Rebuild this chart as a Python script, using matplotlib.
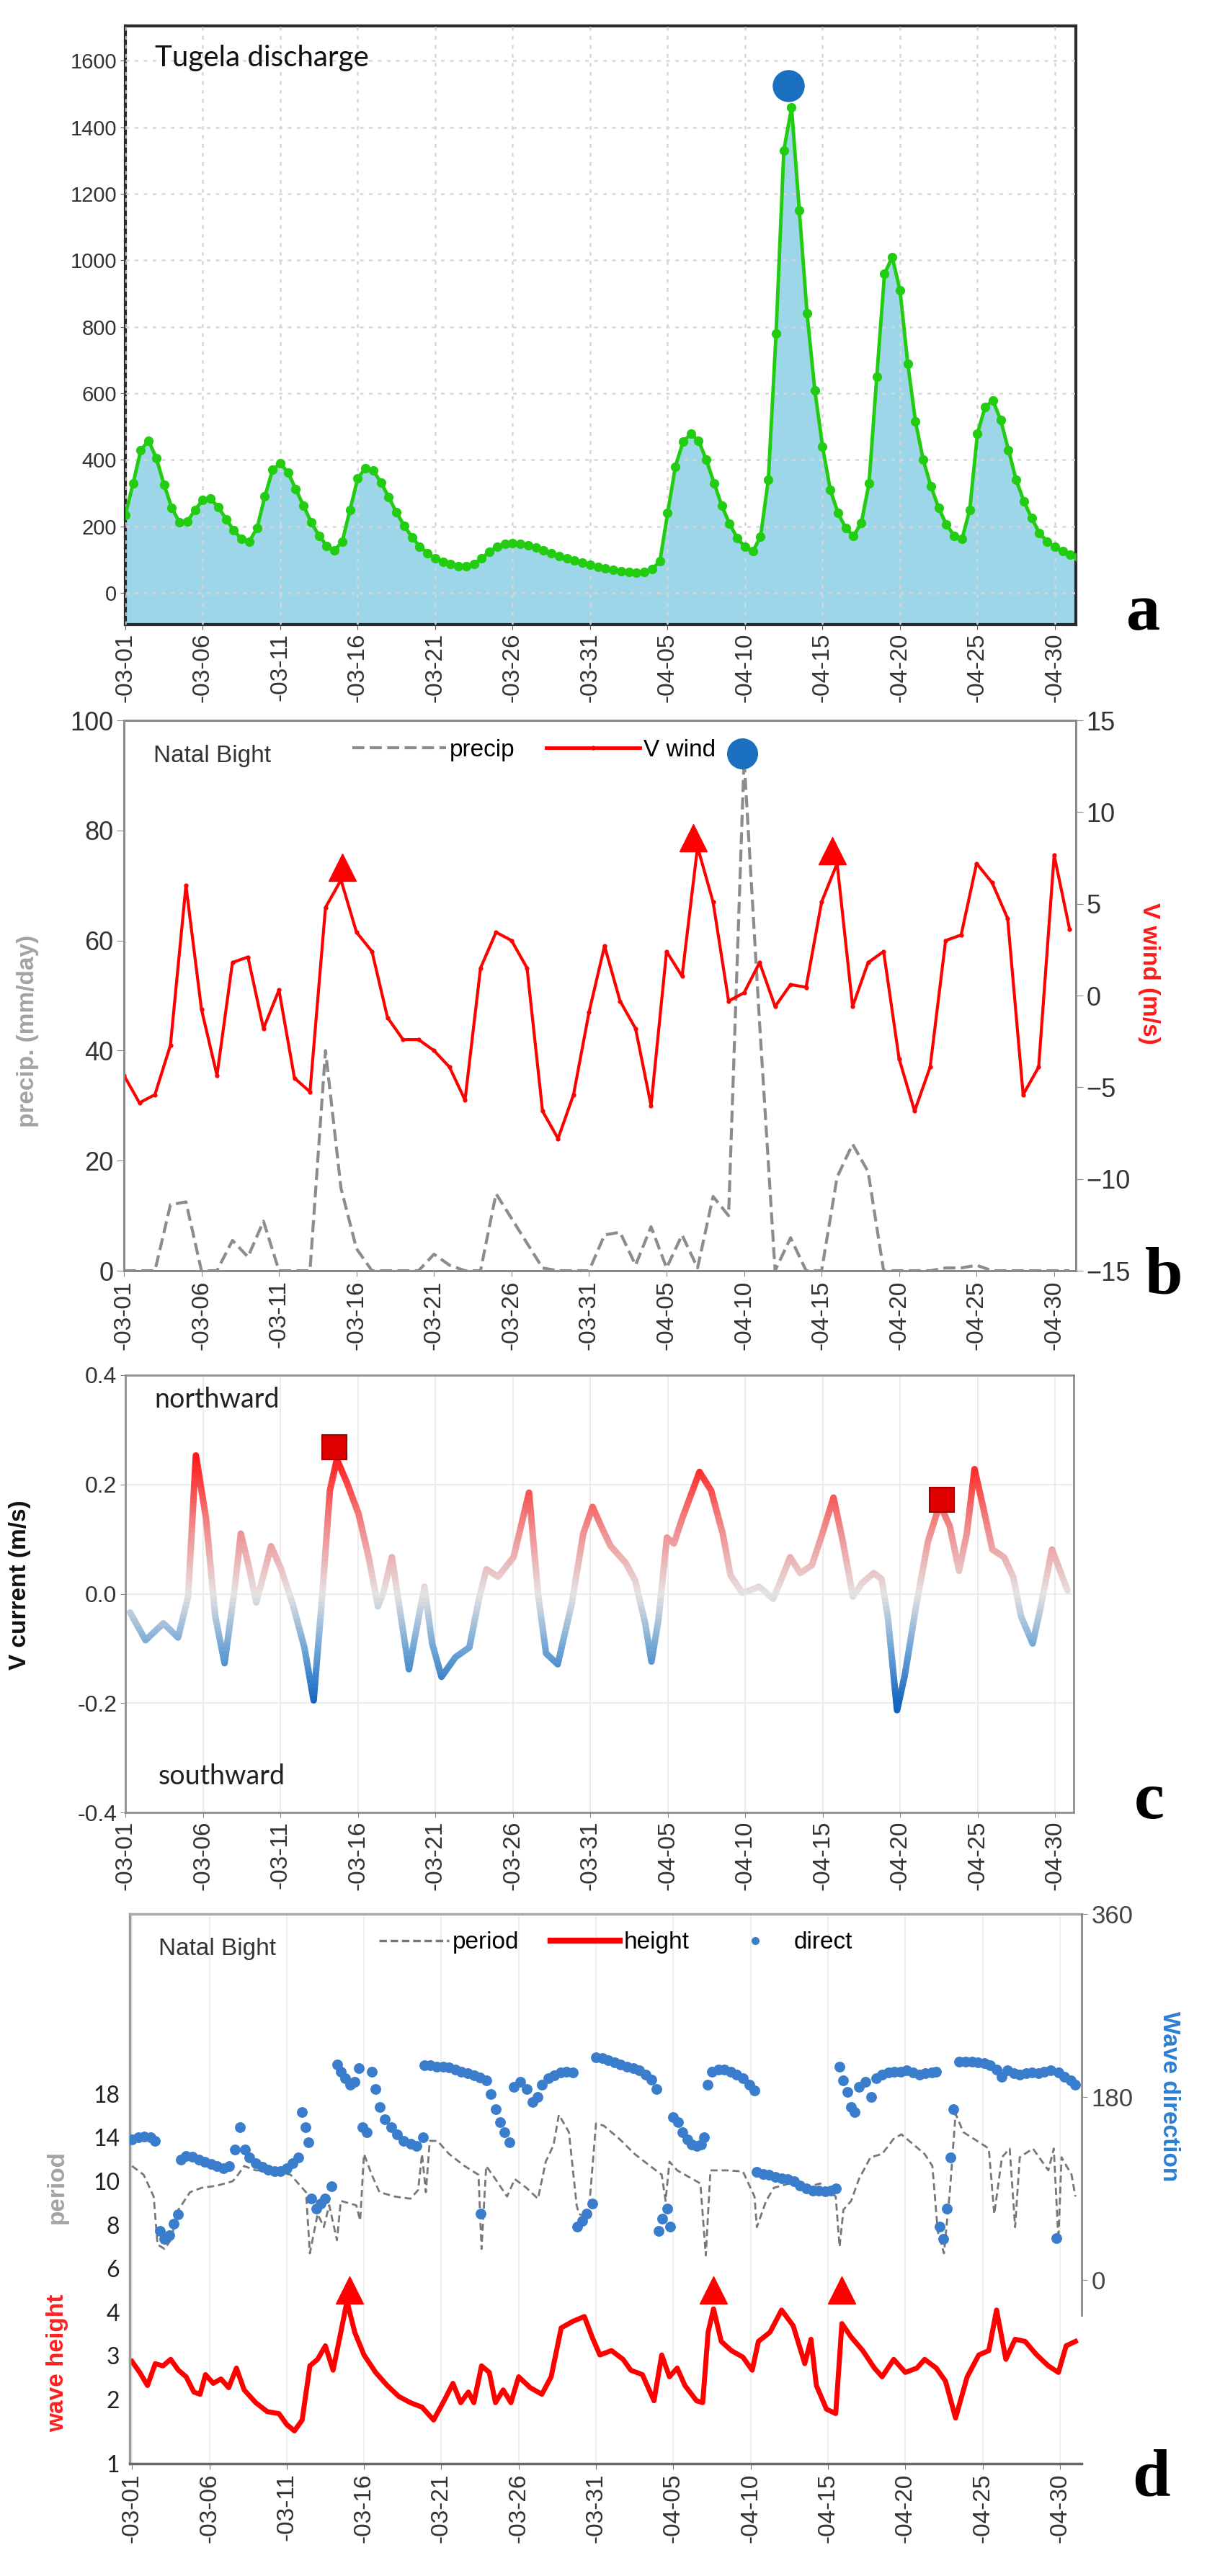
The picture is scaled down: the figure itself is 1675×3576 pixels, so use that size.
import numpy as np
import matplotlib
matplotlib.use('Agg')
import matplotlib.pyplot as plt
from matplotlib.lines import Line2D
from matplotlib.patches import Rectangle
from matplotlib.colors import LinearSegmentedColormap, TwoSlopeNorm

plt.rcParams['font.family'] = 'Liberation Sans'

# ---------------- data (day 0 = 03-01) ----------------
tick_days = list(range(0, 61, 5))
tick_labels = ['-03-01', '-03-06', '-03-11', '-03-16', '-03-21', '-03-26', '-03-31',
               '-04-05', '-04-10', '-04-15', '-04-20', '-04-25', '-04-30']

# a: Tugela discharge, every half day
q_days = np.arange(0, 62, 0.5)
q_vals = [235, 330, 430, 458, 405, 325, 255, 212, 215, 250, 280, 283, 258, 222, 188, 162,
          155, 195, 290, 370, 390, 362, 312, 262, 212, 172, 142, 128, 155, 250, 345, 376,
          368, 332, 288, 242, 202, 168, 140, 120, 104, 93, 86, 81, 80, 88, 104, 124,
          139, 147, 150, 148, 143, 136, 128, 119, 111, 104, 97, 91, 85, 79, 74, 69,
          65, 63, 62, 64, 72, 95, 240, 380, 455, 478, 458, 400, 330, 262, 208, 165,
          138, 125, 170, 340, 780, 1330, 1460, 1150, 840, 610, 440, 310, 240, 195, 172, 210,
          330, 650, 960, 1010, 910, 690, 515, 400, 320, 255, 205, 172, 162, 250, 480, 560,
          578, 520, 430, 340, 275, 225, 180, 155, 138, 125, 115, 108]
q_peak_day, q_peak_val = 42.8, 1525

# b: daily precipitation and V wind
b_days = np.arange(0, 62)
precip = [0, 0, 0, 12, 12.5, 0, 0, 5.5, 2.5, 9, 0, 0, 0, 40, 15, 4, 0, 0, 0, 0, 3, 1,
          0, 0, 14, 9.5, 5, 0.5, 0, 0, 0, 6.5, 7, 1, 8, 0.5, 6.5, 0.5, 13.5, 10, 93, 45,
          0, 6, 0, 0, 17, 23, 18, 0, 0, 0, 0, 0.5, 0.5, 1, 0, 0, 0, 0, 0, 0]
v_wind = [-4.35, -5.85, -5.4, -2.7, 6.0, -0.75, -4.35, 1.8, 2.1, -1.8, 0.3, -4.5, -5.25,
          4.8, 6.3, 3.45, 2.4, -1.2, -2.4, -2.4, -3.0, -3.9, -5.7, 1.5, 3.45, 3.0, 1.5,
          -6.3, -7.8, -5.4, -0.9, 2.7, -0.3, -1.8, -6.0, 2.4, 1.05, 8.1, 5.1, -0.3, 0.15,
          1.8, -0.6, 0.6, 0.45, 5.1, 7.2, -0.6, 1.8, 2.4, -3.45, -6.3, -3.9, 3.0, 3.3,
          7.2, 6.15, 4.2, -5.4, -3.9, 7.65, 3.6]
precip_peak_day, precip_peak_val = 39.9, 94
b_tri_days = [14.1, 36.7, 45.7]
b_tri_wind = [7.0, 8.6, 7.9]

# c: V current
vc_days = [0.3, 1.3, 2.45, 3.4, 4.05, 4.55, 5.2, 5.8, 6.4, 7.05, 7.45, 7.95, 8.45, 9.4,
           10.05, 10.8, 11.55, 12.15, 12.7, 13.2, 13.65, 14.3, 15.05, 15.7, 16.3, 16.65,
           17.2, 17.7, 18.3, 19.3, 19.8, 20.4, 21.3, 22.2, 22.8, 23.3, 24.05, 25.05, 26.05,
           26.65, 27.15, 27.9, 28.8, 29.55, 30.15, 30.7, 31.3, 32.3, 32.9, 33.55, 33.95,
           34.4, 34.95, 35.4, 35.95, 37.05, 37.8, 38.55, 39.05, 39.8, 40.3, 40.9, 41.8,
           42.3, 42.9, 43.55, 44.3, 44.9, 45.7, 46.3, 46.95, 47.55, 48.3, 48.8, 49.2, 49.8,
           50.3, 51.05, 51.8, 52.55, 53.2, 53.8, 54.3, 54.8, 55.4, 55.95, 56.7, 57.3, 57.8,
           58.55, 59.05, 59.8, 60.8]
vc_vals = [-0.034, -0.085, -0.054, -0.080, -0.005, 0.253, 0.139, -0.041, -0.127, 0.009,
           0.110, 0.052, -0.016, 0.087, 0.045, -0.019, -0.098, -0.195, -0.005, 0.189,
           0.246, 0.203, 0.146, 0.067, -0.023, 0.002, 0.067, -0.027, -0.138, 0.013,
           -0.091, -0.152, -0.116, -0.098, -0.012, 0.045, 0.031, 0.067, 0.185, -0.005,
           -0.109, -0.129, -0.019, 0.110, 0.159, 0.124, 0.088, 0.056, 0.024, -0.055,
           -0.124, -0.048, 0.103, 0.092, 0.139, 0.223, 0.189, 0.110, 0.034, 0.002, 0.006,
           0.013, -0.009, 0.024, 0.067, 0.038, 0.052, 0.103, 0.176, 0.096, -0.005, 0.020,
           0.038, 0.027, -0.041, -0.213, -0.149, -0.019, 0.096, 0.164, 0.124, 0.042, 0.110,
           0.228, 0.153, 0.081, 0.067, 0.031, -0.041, -0.091, -0.027, 0.081, 0.006]
sq_days = [13.5, 52.7]
sq_vals = [0.268, 0.172]

# d: waves
ht_days = [0.0, 0.5, 1.0, 1.5, 2.0, 2.5, 3.0, 3.5, 4.0, 4.4, 4.75, 5.25, 5.75, 6.25, 6.75,
           7.25, 8.0, 8.75, 9.5, 10.0, 10.5, 11.0, 11.5, 12.0, 12.5, 13.0, 13.5, 13.9, 14.4,
           15.0, 15.75, 16.5, 17.25, 18.0, 18.75, 19.5, 20.25, 20.75, 21.25, 21.75, 22.1,
           22.6, 23.1, 23.5, 24.0, 24.5, 25.0, 25.75, 26.5, 27.1, 27.75, 28.5, 29.25, 29.75,
           30.25, 31.0, 31.75, 32.25, 33.0, 33.75, 34.25, 34.75, 35.25, 35.75, 36.5, 36.9,
           37.25, 37.6, 38.1, 38.75, 39.5, 40.1, 40.5, 41.25, 42.0, 42.75, 43.5, 43.9, 44.25,
           44.9, 45.5, 45.9, 46.5, 47.25, 48.0, 48.5, 49.25, 50.0, 50.75, 51.25, 52.0, 52.6,
           53.25, 54.0, 54.75, 55.4, 55.9, 56.5, 57.1, 57.75, 58.5, 59.25, 59.9, 60.4, 61.0]
ht_vals = [2.87, 2.62, 2.32, 2.82, 2.77, 2.92, 2.67, 2.52, 2.17, 2.12, 2.57, 2.37, 2.47, 2.27,
           2.72, 2.22, 1.95, 1.81, 1.78, 1.61, 1.51, 1.68, 2.77, 2.92, 3.23, 2.67, 3.54, 4.5,
           3.54, 3.02, 2.62, 2.32, 2.07, 1.95, 1.88, 1.68, 2.02, 2.37, 1.95, 2.17, 1.95, 2.77,
           2.62, 1.95, 2.22, 1.95, 2.52, 2.27, 2.12, 2.52, 3.64, 3.79, 3.9, 3.43, 3.02, 3.12,
           2.92, 2.67, 2.57, 1.98, 3.02, 2.52, 2.72, 2.32, 1.98, 1.95, 3.54, 4.15, 3.33, 3.12,
           2.97, 2.67, 3.33, 3.54, 4.1, 3.69, 2.82, 3.38, 2.32, 1.85, 1.78, 3.74, 3.43, 3.12,
           2.72, 2.52, 2.92, 2.62, 2.72, 2.92, 2.72, 2.42, 1.71, 2.52, 3.02, 3.12, 4.1, 2.92,
           3.38, 3.33, 3.02, 2.77, 2.62, 3.23, 3.33]
per_days = [0.0, 0.75, 1.4, 1.65, 2.1, 2.5, 3.0, 3.75, 4.5, 5.5, 6.5, 6.75, 7.25, 8.0, 9.0,
            10.25, 11.25, 11.5, 12.0, 12.4, 12.75, 13.25, 13.5, 14.5, 14.75, 15.0, 15.5, 16.0,
            17.0, 18.0, 18.5, 18.75, 19.0, 19.25, 19.75, 20.5, 21.5, 22.4, 22.6, 22.9, 23.5,
            24.25, 24.75, 25.5, 26.25, 26.75, 27.25, 27.6, 28.25, 28.75, 28.9, 29.5, 30.0,
            30.5, 31.5, 32.5, 33.5, 34.25, 34.5, 34.75, 35.25, 36.0, 36.75, 37.1, 37.4, 38.5,
            39.5, 40.25, 40.4, 41.0, 41.5, 42.5, 43.5, 44.5, 45.5, 45.75, 46.0, 46.5, 47.0,
            47.75, 48.5, 49.25, 49.75, 50.25, 51.25, 51.75, 52.1, 52.5, 52.9, 53.25, 53.75,
            54.75, 55.4, 55.75, 56.25, 56.75, 57.1, 57.4, 58.25, 59.25, 59.6, 59.9, 60.1,
            60.75, 61.0]
per_vals = [11.4, 10.6, 9.3, 7.1, 6.9, 7.3, 8.7, 9.5, 9.7, 9.8, 10.0, 10.4, 11.4, 11.0, 11.0,
            10.6, 9.5, 6.7, 8.5, 7.9, 8.9, 7.3, 9.1, 8.9, 8.2, 12.5, 10.6, 9.5, 9.3, 9.2, 9.6,
            12.5, 9.5, 13.7, 13.7, 12.5, 11.4, 10.6, 6.9, 11.4, 10.2, 9.3, 10.2, 9.7, 9.2,
            11.8, 13.3, 16.1, 14.5, 8.9, 8.5, 8.3, 15.3, 15.1, 13.9, 12.5, 11.4, 10.6, 9.1,
            11.8, 11.0, 10.4, 9.9, 6.6, 11.0, 11.0, 10.9, 9.3, 7.9, 9.1, 9.7, 9.9, 9.7, 9.9,
            9.3, 7.0, 8.7, 9.1, 10.2, 12.2, 12.5, 13.9, 14.3, 13.7, 12.5, 11.4, 7.7, 6.7, 9.7,
            16.2, 14.5, 13.6, 13.0, 8.5, 12.2, 13.0, 7.9, 12.2, 13.0, 11.0, 13.0, 7.3, 12.2,
            10.6, 9.3]
dir_days = [0.0, 0.4, 0.8, 1.2, 1.5, 1.8, 2.1, 2.4, 2.7, 2.95, 3.15, 3.5, 3.9, 4.3, 4.7, 5.1,
            5.5, 5.9, 6.3, 6.65, 7.0, 7.3, 7.6, 8.0, 8.4, 8.8, 9.2, 9.6, 10.0, 10.4, 10.75,
            11.0, 11.2, 11.4, 11.6, 11.9, 12.2, 12.5, 12.9, 13.25, 13.5, 13.8, 14.1, 14.4,
            14.65, 14.9, 15.2, 15.5, 15.75, 16.0, 16.35, 16.75, 17.15, 17.55, 18.0, 18.4,
            18.8, 18.9, 19.3, 19.7, 20.1, 20.5, 20.9, 21.3, 21.7, 22.1, 22.5, 22.55, 22.9,
            23.2, 23.5, 23.8, 24.1, 24.4, 24.7, 25.1, 25.5, 25.9, 26.2, 26.5, 26.9, 27.3,
            27.7, 28.1, 28.5, 28.8, 29.1, 29.4, 29.75, 30.0, 30.4, 30.8, 31.2, 31.6, 32.0,
            32.4, 32.8, 33.2, 33.6, 33.9, 34.05, 34.3, 34.6, 34.8, 35.0, 35.3, 35.6, 35.9,
            36.2, 36.5, 36.8, 37.0, 37.2, 37.5, 37.9, 38.3, 38.7, 39.1, 39.5, 39.9, 40.25,
            40.4, 40.8, 41.2, 41.6, 42.0, 42.4, 42.8, 43.2, 43.6, 44.0, 44.4, 44.8, 45.2,
            45.5, 45.75, 46.0, 46.25, 46.5, 46.7, 47.0, 47.4, 47.8, 48.1, 48.5, 48.9, 49.3,
            49.7, 50.1, 50.5, 50.9, 51.3, 51.7, 52.0, 52.2, 52.45, 52.7, 52.9, 53.1, 53.5,
            53.9, 54.3, 54.7, 55.1, 55.5, 55.9, 56.25, 56.6, 57.0, 57.4, 57.8, 58.2, 58.6,
            59.0, 59.4, 59.75, 59.9, 60.3, 60.7, 61.0]
dir_vals = [138, 140, 141, 140, 137, 48, 40, 44, 55, 64, 118, 122, 121, 118, 116, 114, 112,
            110, 112, 128, 150, 128, 120, 115, 111, 108, 107, 107, 110, 115, 120, 165, 150,
            135, 80, 70, 75, 80, 92, 212, 205, 198, 192, 195, 208, 150, 145, 205, 188, 170,
            158, 150, 143, 137, 134, 132, 140, 211, 211, 210, 210, 209, 207, 205, 203, 201,
            199, 65, 196, 183, 168, 155, 145, 135, 190, 195, 188, 175, 180, 192, 198, 201,
            204, 205, 204, 52, 58, 65, 75, 219, 218, 216, 214, 212, 210, 208, 206, 202, 197,
            188, 48, 60, 70, 52, 160, 155, 145, 138, 133, 132, 133, 140, 192, 205, 207, 207,
            205, 202, 198, 192, 186, 106, 104, 103, 101, 100, 99, 97, 93, 90, 88, 88, 87, 88,
            90, 210, 196, 185, 170, 165, 190, 195, 180, 198, 202, 204, 205, 205, 206, 204,
            202, 203, 204, 205, 52, 40, 70, 120, 168, 215, 215, 215, 214, 213, 211, 207, 200,
            206, 203, 202, 203, 204, 203, 205, 206, 41, 204, 200, 196, 192]
d_tri_days = [14.05, 37.6, 45.9]
d_tri_ht = [5.0, 5.0, 5.0]

# left axis of panel d: uneven tick spacing as in the original figure
d_left_ticks = [1, 2, 3, 4, 6, 8, 10, 14, 18]
_ht_ref = [0.5, 1, 2, 3, 4, 6, 8, 10, 14, 18, 50]
_ht_pos = [-0.75, 0, 1.47, 2.47, 3.47, 4.47, 5.47, 6.47, 7.47, 8.47, 16.47]


def ht_fwd(v):
    return np.interp(v, _ht_ref, _ht_pos)


def ht_inv(p):
    return np.interp(p, _ht_pos, _ht_ref)


def date_axis(ax):
    ax.set_xticks(tick_days)
    ax.set_xticklabels(tick_labels, rotation=90, fontsize=24, color='#333333')


W, H = 1675, 3576
fig = plt.figure(figsize=(W / 100, H / 100), dpi=100)


def letter(s, x, y):
    fig.text(x / W, 1 - y / H, s, fontsize=68, fontweight='bold', family='Liberation Serif',
             ha='center', va='baseline')


# ---------------- panel a ----------------
ax = fig.add_axes([174 / W, 1 - 867 / H, 1319 / W, 831 / H])
ax.fill_between(q_days, q_vals, -95, color='#9dd6e9', lw=0, zorder=1)
ax.plot(q_days, q_vals, color='#22cc11', lw=3.5, marker='o', ms=8.5, zorder=3)
ax.plot(q_peak_day, q_peak_val, 'o', color='#1a6fbf', ms=31, zorder=4)
ax.set_xlim(0, 61.35)
ax.set_ylim(-95, 1705)
ax.set_yticks(range(0, 1601, 200))
ax.set_axisbelow(False)
ax.grid(True, ls=(0, (2, 3)), color='#d6d6d6', lw=1.8)
for s in ax.spines.values():
    s.set_color('#2b2b2b')
    s.set_linewidth(3)
ax.tick_params(axis='y', labelsize=21, labelcolor='#333333', color='#555555', length=5)
ax.tick_params(axis='x', color='#555555', length=5)
date_axis(ax)
ax.text(0.031, 0.947, 'Tugela discharge', transform=ax.transAxes, family='Lato',
        fontsize=29, va='center', color='#111111')
letter('a', 1587, 874)

# ---------------- panel b ----------------
axb = fig.add_axes([172 / W, 1 - 1764 / H, 1321 / W, 764 / H])
axb.plot(b_days, precip, color='#8c8c8c', lw=3, dashes=(4, 1.8))
axb.plot(precip_peak_day, precip_peak_val, 'o', color='#1a6fbf', ms=30, zorder=4)
axb.set_xlim(0, 61.4)
axb.set_ylim(0, 100)
axb.set_yticks(range(0, 101, 20))
axb2 = axb.twinx()
axb2.plot(b_days, v_wind, color='#ff0000', lw=3, marker='o', ms=3.5)
axb2.plot(b_tri_days, b_tri_wind, '^', color='#ff0000', ms=27)
axb2.set_ylim(-15, 15)
axb2.set_yticks(range(-15, 16, 5))
for a_ in (axb, axb2):
    for s in a_.spines.values():
        s.set_color('#8a8a8a')
        s.set_linewidth(2)
axb.tick_params(axis='y', labelsize=26, labelcolor='#333333', color='#888888', length=7)
axb2.tick_params(axis='y', labelsize=26, labelcolor='#333333', color='#888888', length=7)
axb.tick_params(axis='x', color='#888888', length=6)
date_axis(axb)
axb.set_ylabel('precip. (mm/day)', color='#a3a3a3', fontsize=24, fontweight='bold')
axb.yaxis.set_label_coords(-0.089, 0.435)
axb2.set_ylabel('V wind (m/s)', color='#ff1a1a', fontsize=24, fontweight='bold',
                rotation=-90, va='center', ha='center')
axb2.yaxis.set_label_coords(1.077, 0.54)
axb.text(0.031, 0.935, 'Natal Bight', transform=axb.transAxes, fontsize=24,
         color='#333333', va='center')
hb = [Line2D([], [], color='#8c8c8c', lw=3, dashes=(4, 1.8)),
      Line2D([], [], color='#ff0000', lw=3.5, marker='o', ms=3.5)]
axb.legend(hb, ['precip', 'V wind'], loc='center left', bbox_to_anchor=(0.24, 0.946),
           ncol=2, frameon=False, fontsize=24, handlelength=3.9, handletextpad=0.15,
           columnspacing=1.3, borderpad=0, borderaxespad=0)
letter('b', 1615, 1795)

# ---------------- panel c ----------------
axc = fig.add_axes([174 / W, 1 - 2516 / H, 1316 / W, 607 / H])
cmap = LinearSegmentedColormap.from_list('vc', ['#1565c0', '#6fa6d6', '#e6e2e2',
                                                '#f08888', '#ff1a1a'])
norm = TwoSlopeNorm(vmin=-0.2, vcenter=0.0, vmax=0.25)
edges = np.linspace(-0.3, 0.36, 89)
for y0, y1 in zip(edges[:-1], edges[1:]):
    ln, = axc.plot(vc_days, vc_vals, color=cmap(norm(np.clip((y0 + y1) / 2, -0.2, 0.25))),
                   lw=6.5, solid_joinstyle='round', solid_capstyle='round')
    ln.set_clip_path(Rectangle((-5, y0), 80, y1 - y0, transform=axc.transData))
axc.plot(sq_days, sq_vals, 's', color='#e00000', mec='#a00000', mew=1.5, ms=24, zorder=5)
axc.set_xlim(0, 61.2)
axc.set_ylim(-0.4, 0.4)
axc.set_yticks([-0.4, -0.2, 0.0, 0.2, 0.4])
axc.set_yticklabels(['-0.4', '-0.2', '0.0', '0.2', '0.4'])
axc.grid(True, color='#ececec', lw=1.5)
axc.set_axisbelow(True)
for s in axc.spines.values():
    s.set_color('#8f8f8f')
    s.set_linewidth(2)
axc.tick_params(axis='y', labelsize=23, labelcolor='#333333', color='#888888', length=5)
axc.tick_params(axis='x', color='#888888', length=5)
date_axis(axc)
axc.set_ylabel('V current (m/s)', fontsize=24, fontweight='bold', color='#111111')
axc.yaxis.set_label_coords(-0.0995, 0.52)
axc.text(0.031, 0.944, 'northward', transform=axc.transAxes, family='Lato', fontsize=27,
         va='center', color='#222222')
axc.text(0.035, 0.082, 'southward', transform=axc.transAxes, family='Lato', fontsize=27,
         va='center', color='#222222')
letter('c', 1595, 2524)

# ---------------- panel d ----------------
axd = fig.add_axes([180 / W, 1 - 3420 / H, 1321 / W, 763 / H])
axd.set_yscale('function', functions=(ht_fwd, ht_inv))
axd.set_ylim(1, 34.5)
axd.set_xlim(-0.15, 61.4)
axd.plot(per_days, per_vals, color='#777777', lw=2, dashes=(3.5, 2))
axd.plot(ht_days, ht_vals, color='#ff0000', lw=5)
axd.plot(d_tri_days, d_tri_ht, '^', color='#ff0000', ms=27)
axd.set_yticks(d_left_ticks)
axd.set_yticklabels([str(v) for v in d_left_ticks], family='Lato', fontsize=23,
                    color='#222222')
axd.tick_params(axis='y', length=0, pad=10)
axd.tick_params(axis='x', color='#777777', length=6)
axd.grid(True, axis='x', color='#efefef', lw=1.5)
date_axis(axd)
axd.spines['right'].set_visible(False)
axd.spines['left'].set_color('#9a9a9a')
axd.spines['top'].set_color('#a8a8a8')
axd.spines['bottom'].set_color('#666666')
for k in ('left', 'top', 'bottom'):
    axd.spines[k].set_linewidth(2.5)
axd.text(-0.076, 0.503, 'period', transform=axd.transAxes, rotation=90, color='#a3a3a3',
         fontweight='bold', fontsize=24, ha='center', va='center')
axd.text(-0.076, 0.183, 'wave height', transform=axd.transAxes, rotation=90,
         color='#ff2020', fontweight='bold', fontsize=24, ha='center', va='center')

axd2 = axd.twinx()
axd2.scatter(dir_days, dir_vals, s=115, color='#3a7dcc', lw=0, zorder=3)
axd2.set_ylim(-181, 360)
axd2.set_yticks([0, 180, 360])
for k in ('left', 'top', 'bottom'):
    axd2.spines[k].set_visible(False)
axd2.spines['right'].set_color('#8a8a8a')
axd2.spines['right'].set_linewidth(2)
axd2.spines['right'].set_bounds(-35, 360)
axd2.tick_params(axis='y', labelsize=25, labelcolor='#444444', color='#888888', length=6)
axd2.set_ylabel('Wave direction', color='#2a7fd4', fontsize=24, fontweight='bold',
                rotation=-90, va='center', ha='center')
axd2.yaxis.set_label_coords(1.092, 0.668)
axd.text(0.03, 0.937, 'Natal Bight', transform=axd.transAxes, fontsize=24,
         color='#333333', va='center')
hd = [Line2D([], [], color='#777777', lw=2.5, dashes=(3, 1.5)),
      Line2D([], [], color='#ff0000', lw=6),
      Line2D([], [], color='#3a7dcc', lw=0, marker='o', ms=7)]
axd.legend(hd, ['period', 'height', 'direct'], loc='center left',
           bbox_to_anchor=(0.262, 0.948), ncol=3, frameon=False, fontsize=24,
           handlelength=2.9, handletextpad=0.15, columnspacing=1.3, borderpad=0,
           borderaxespad=0)
letter('d', 1597, 3464)

fig.savefig('out.png', dpi=100)
